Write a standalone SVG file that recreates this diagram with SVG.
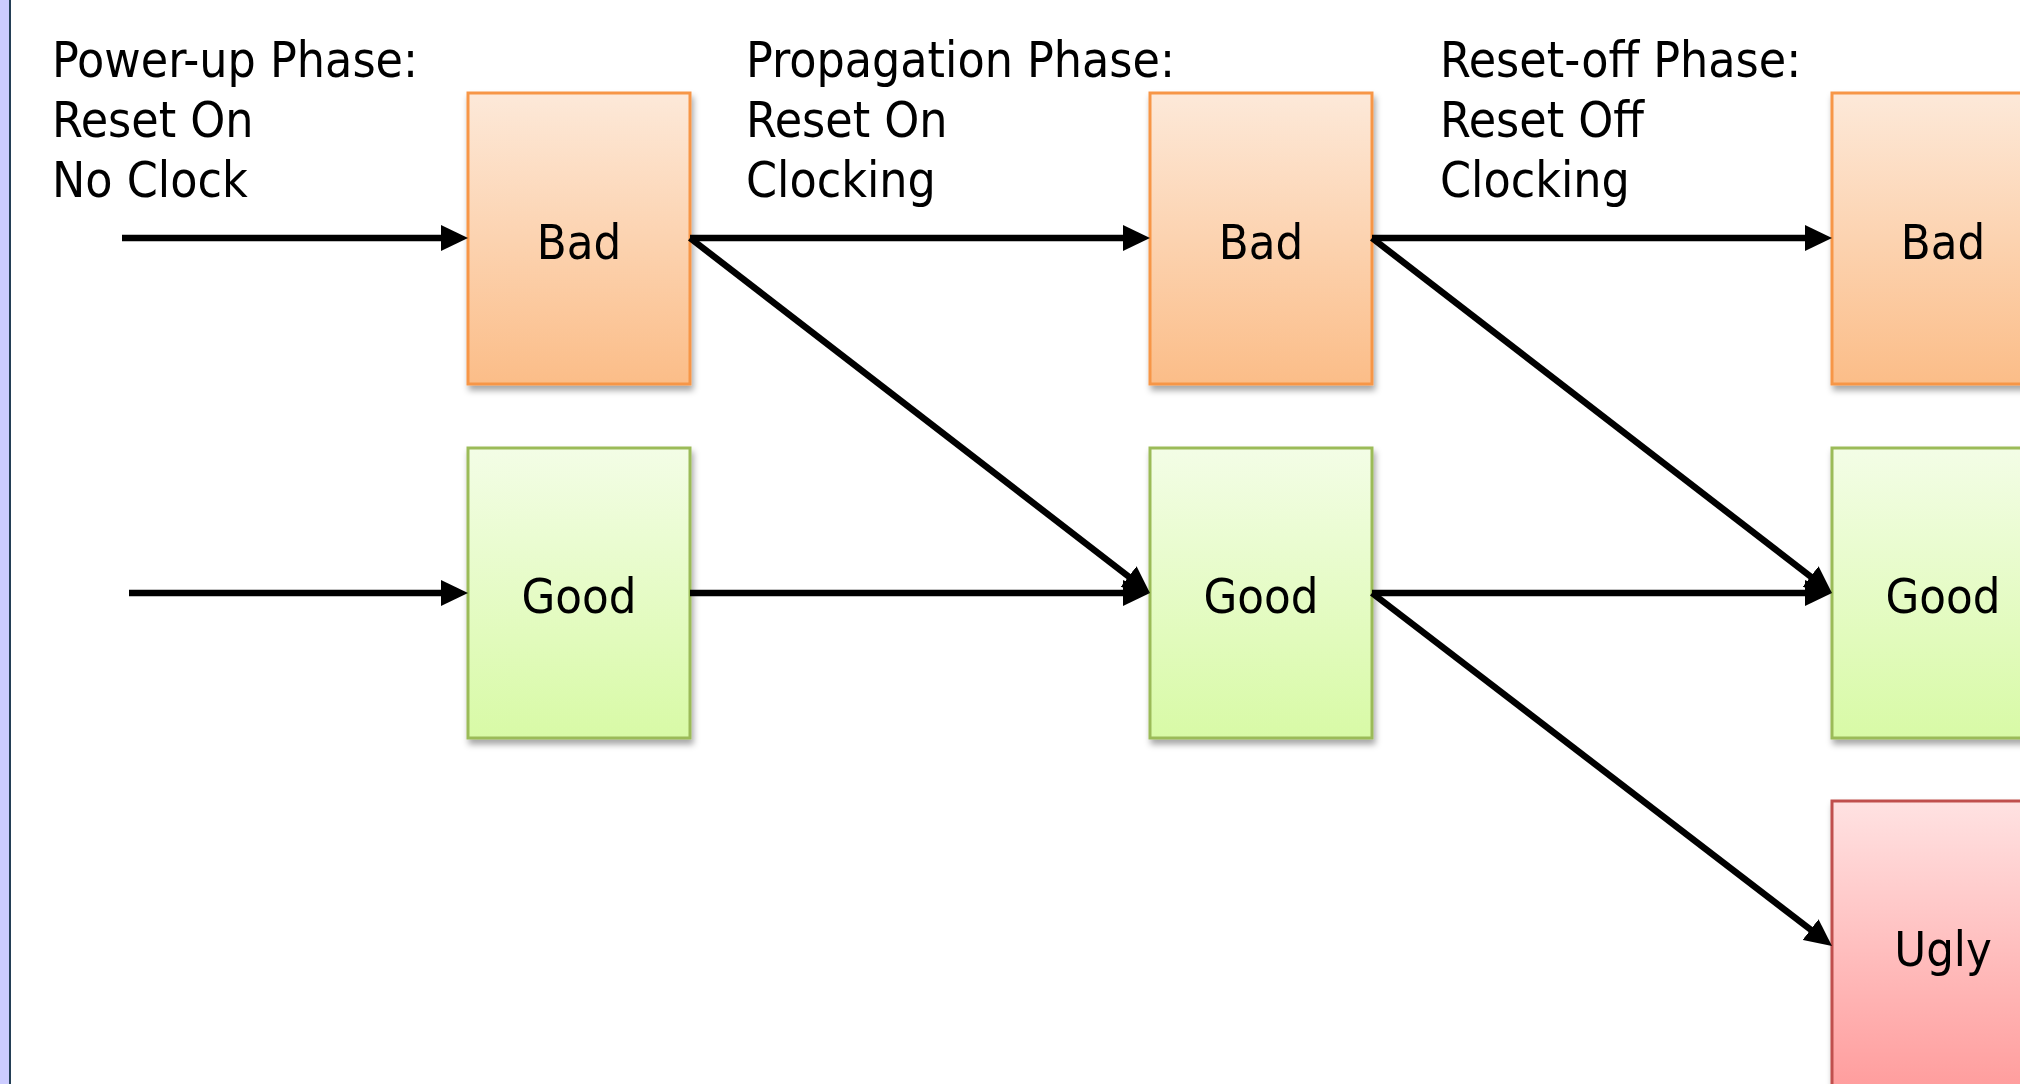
<svg xmlns="http://www.w3.org/2000/svg" width="2020" height="1084" viewBox="0 0 2020 1084">
  <style>
    .phase { font-family: "DejaVu Sans Condensed", "DejaVu Sans", sans-serif; font-stretch: condensed; font-size: 49.5px; fill: #000; }
    .label { font-family: "DejaVu Sans Condensed", "DejaVu Sans", sans-serif; font-stretch: condensed; font-size: 48.5px; fill: #000; text-anchor: middle; }
    .bad { fill: url(#gBad); stroke: #F79646; stroke-width: 3; }
    .good { fill: url(#gGood); stroke: #9BBB59; stroke-width: 3; }
    .ugly { fill: url(#gUgly); stroke: #C0504D; stroke-width: 3; }
    .wire { stroke: #000; stroke-width: 6.5; fill: none; marker-end: url(#head); }
  </style>
  <defs>
    <linearGradient id="gBad" x1="0" y1="0" x2="0" y2="1">
      <stop offset="0" stop-color="#FDE9D9"/>
      <stop offset="1" stop-color="#FBBD88"/>
    </linearGradient>
    <linearGradient id="gGood" x1="0" y1="0" x2="0" y2="1">
      <stop offset="0" stop-color="#F3FDE6"/>
      <stop offset="1" stop-color="#D8FAA6"/>
    </linearGradient>
    <linearGradient id="gUgly" x1="0" y1="0" x2="0" y2="1">
      <stop offset="0" stop-color="#FFE2E2"/>
      <stop offset="1" stop-color="#FF9C9C"/>
    </linearGradient>
    <filter id="shadow" x="-10%" y="-10%" width="130%" height="130%">
      <feDropShadow dx="2" dy="5" stdDeviation="3" flood-color="#000" flood-opacity="0.35"/>
    </filter>
    <marker id="head" markerUnits="userSpaceOnUse" markerWidth="27" markerHeight="26" refX="13" refY="13" orient="auto">
      <path d="M0,0 L27,13 L0,26 z" fill="#000"/>
    </marker>
  </defs>

  <rect x="0" y="0" width="2020" height="1084" fill="#FFFFFF"/>
  <!-- side rule -->
  <rect x="0" y="0" width="9" height="1084" fill="#CCCCFF"/>
  <rect x="9" y="0" width="2" height="1084" fill="#243F56"/>

  <!-- phase headings -->
  <g id="phase-powerup">
    <text class="phase" x="52" y="77">Power-up Phase:</text>
    <text class="phase" x="52" y="137">Reset On</text>
    <text class="phase" x="52" y="197">No Clock</text>
  </g>
  <g id="phase-propagation">
    <text class="phase" x="746" y="77">Propagation Phase:</text>
    <text class="phase" x="746" y="137">Reset On</text>
    <text class="phase" x="746" y="197">Clocking</text>
  </g>
  <g id="phase-resetoff">
    <text class="phase" x="1440" y="77">Reset-off Phase:</text>
    <text class="phase" x="1440" y="137">Reset Off</text>
    <text class="phase" x="1440" y="197">Clocking</text>
  </g>

  <!-- state nodes -->
  <g id="bad1">
    <rect class="bad" x="468" y="93" width="222" height="291" filter="url(#shadow)"/>
    <text class="label" x="579" y="259">Bad</text>
  </g>
  <g id="good1">
    <rect class="good" x="468" y="448" width="222" height="290" filter="url(#shadow)"/>
    <text class="label" x="579" y="613">Good</text>
  </g>
  <g id="bad2">
    <rect class="bad" x="1150" y="93" width="222" height="291" filter="url(#shadow)"/>
    <text class="label" x="1261" y="259">Bad</text>
  </g>
  <g id="good2">
    <rect class="good" x="1150" y="448" width="222" height="290" filter="url(#shadow)"/>
    <text class="label" x="1261" y="613">Good</text>
  </g>
  <g id="bad3">
    <rect class="bad" x="1832" y="93" width="222" height="291" filter="url(#shadow)"/>
    <text class="label" x="1943" y="259">Bad</text>
  </g>
  <g id="good3">
    <rect class="good" x="1832" y="448" width="222" height="290" filter="url(#shadow)"/>
    <text class="label" x="1943" y="613">Good</text>
  </g>
  <g id="ugly3">
    <rect class="ugly" x="1832" y="801" width="222" height="291" filter="url(#shadow)"/>
    <text class="label" x="1943" y="966">Ugly</text>
  </g>

  <!-- transitions -->
  <g id="connectors">
    <line class="wire" x1="122" y1="238" x2="454" y2="238"/>
    <line class="wire" x1="129" y1="593" x2="454" y2="593"/>
    <line class="wire" x1="690" y1="238" x2="1136" y2="238"/>
    <line class="wire" x1="690" y1="238" x2="1138.9" y2="584.5"/>
    <line class="wire" x1="690" y1="593" x2="1136" y2="593"/>
    <line class="wire" x1="1372" y1="238" x2="1818" y2="238"/>
    <line class="wire" x1="1372" y1="238" x2="1820.9" y2="584.5"/>
    <line class="wire" x1="1372" y1="593" x2="1818" y2="593"/>
    <line class="wire" x1="1372" y1="593" x2="1820.9" y2="937.5"/>
  </g>
</svg>
